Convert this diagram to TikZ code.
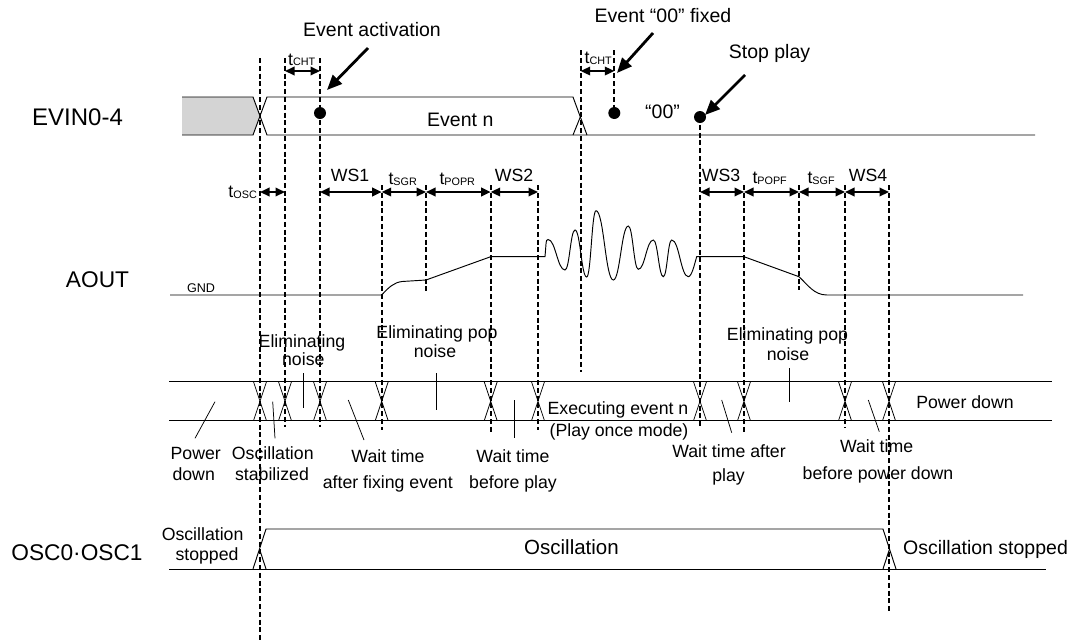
\documentclass[tikz,border=0pt]{standalone}
\usepackage{fontspec}
\setmainfont{Liberation Sans}
\usetikzlibrary{arrows.meta}
\newcommand{\tmsub}[1]{t\raisebox{-0.8pt}{\fontsize{10.8}{12}\selectfont #1}}
\begin{document}
\begin{tikzpicture}[x=1pt,y=-1pt,
  sig/.style={line width=0.95pt,black},
  leader/.style={line width=0.75pt,black},
  vdash/.style={line width=2pt,dash pattern=on 5pt off 2.8pt},
  span/.style={line width=2.1pt,{Triangle[length=9.5pt,width=8.5pt]}-{Triangle[length=9.5pt,width=8.5pt]}},
  ptr/.style={line width=2.8pt,-{Triangle[length=15pt,width=12.5pt]}},
  dotmark/.style={circle,fill=black,inner sep=0pt,minimum size=12pt},
  fA/.style={font=\fontsize{19.5}{22}\selectfont,inner sep=0pt,anchor=base},
  fB/.style={font=\fontsize{17.7}{20}\selectfont,inner sep=0pt,anchor=base},
  fR/.style={font=\fontsize{22.7}{25}\selectfont,inner sep=0pt,anchor=base},
  fS/.style={font=\fontsize{12.6}{14}\selectfont,inner sep=0pt,anchor=base},
]
\useasboundingbox (0,0) rectangle (1077,641);

% ---------- vertical dashed guide lines
\draw[vdash] (260,58) -- (260,641);
\draw[vdash] (285,58) -- (285,427);
\draw[vdash] (320,58) -- (320,427);
\draw[vdash] (381.7,185) -- (381.7,430);
\draw[vdash] (426,185) -- (426,293);
\draw[vdash] (490.7,185) -- (490.7,433);
\draw[vdash] (538,185) -- (538,430);
\draw[vdash] (580.7,50) -- (580.7,372);
\draw[vdash] (614.3,50) -- (614.3,113);
\draw[vdash] (700,117) -- (700,427);
\draw[vdash] (744,185) -- (744,433);
\draw[vdash] (799,185) -- (799,290);
\draw[vdash] (845,185) -- (845,427);
\draw[vdash] (889,185) -- (889,613);

% ---------- EVIN0-4
\node[fR,font=\fontsize{24}{26}\selectfont] (evin) at (77.5,125) {EVIN0-4};
\fill[fill={rgb,255:red,212;green,212;blue,212}] (182,97) -- (253,97) -- (260,116) -- (253,135) -- (182,135) -- cycle;
\draw[sig] (182,97) -- (253,97) -- (260,116) -- (253,135) -- (182,135);
\draw[sig] (260,116) -- (267,97) -- (573,97) -- (587,135);
\draw[sig] (260,116) -- (267,135) -- (1035,135);
\draw[sig] (573,135) -- (580.7,116);
\node[fA] (evn) at (460.3,126.7) {Event n};
\node[fA] (ev00) at (662.5,118.3) {“00”};
\node[dotmark] (d1) at (320,113) {};
\node[dotmark] (d2) at (614.3,113) {};
\node[dotmark] (d3) at (700,117) {};

% ---------- callouts
\node[fA] (lact) at (372,36.7) {Event activation};
\node[fA] (lfix) at (663,22.7) {Event “00” fixed};
\node[fA] (lstop) at (769.5,58.3) {Stop play};
\coordinate (pa0) at (368,48);  \coordinate (pa1) at (327,90);
\coordinate (pb0) at (653,33);  \coordinate (pb1) at (617,73);
\coordinate (pc0) at (745,75);  \coordinate (pc1) at (705,115);
\draw[ptr] (pa0) -- (pa1);
\draw[ptr] (pb0) -- (pb1);
\draw[ptr] (pc0) -- (pc1);

% ---------- t_CHT
\coordinate (c1a) at (285,71); \coordinate (c1b) at (320,71);
\coordinate (c2a) at (580.7,71); \coordinate (c2b) at (614.3,71);
\draw[span] (c1a) -- (c1b);
\draw[span] (c2a) -- (c2b);
\node[fB,anchor=base west] (tcht1) at (288,65) {\tmsub{CHT}};
\node[fB,anchor=base west] (tcht2) at (584.5,63.5) {\tmsub{CHT}};

% ---------- interval arrows
\coordinate (o0) at (260,192); \coordinate (o1) at (285,192);
\coordinate (w0) at (320,192); \coordinate (w1) at (381.7,192);
\coordinate (w2) at (426,192); \coordinate (w3) at (490.7,192);
\coordinate (w4) at (538,192);
\coordinate (v0) at (700,192); \coordinate (v1) at (744,192);
\coordinate (v2) at (799,192); \coordinate (v3) at (845,192);
\coordinate (v4) at (889,192);
\draw[span] (o0) -- (o1);
\draw[span] (w0) -- (w1);
\draw[span] (w1) -- (w2);
\draw[span] (w2) -- (w3);
\draw[span] (w3) -- (w4);
\draw[span] (v0) -- (v1);
\draw[span] (v1) -- (v2);
\draw[span] (v2) -- (v3);
\draw[span] (v3) -- (v4);
\node[fB,anchor=base east] (tosc) at (257,197.3) {\tmsub{OSC}};
\node[fB] (ws1) at (350,181.5) {WS1};
\node[fB,anchor=base west] (tsgr) at (388.3,184.3) {\tmsub{SGR}};
\node[fB,anchor=base west] (tpopr) at (439.3,184.3) {\tmsub{POPR}};
\node[fB] (ws2) at (514,181.5) {WS2};
\node[fB] (ws3) at (721,181) {WS3};
\node[fB,anchor=base west] (tpopf) at (752.3,183.5) {\tmsub{POPF}};
\node[fB,anchor=base west] (tsgf) at (807.3,183.5) {\tmsub{SGF}};
\node[fB] (ws4) at (868,181) {WS4};

% ---------- AOUT
\node[fR] (aout) at (97.5,287.3) {AOUT};
\node[fS] (gnd) at (201,292.3) {GND};
\draw[sig] (170,295) -- (381.7,295) .. controls (389,287) and (394,282.5) .. (402,281.5) -- (426,280) -- (490.7,256.7) -- (545,256.7)
  -- (546,244) .. controls (546.5,240) .. (548,239.5)
  .. controls (555.6,239.5) and (557.4,270) .. (565,270)
  .. controls (569.5,270) and (570.5,230) .. (575,230)
  .. controls (580.3,230) and (581.4,277) .. (586.7,277)
  .. controls (590.9,277) and (591.8,210.7) .. (596,210.7)
  .. controls (603.8,210.7) and (605.5,280) .. (613.3,280)
  .. controls (620,280) and (621.5,226) .. (628.3,226)
  .. controls (632.8,226) and (633.8,269.3) .. (638.3,269.3)
  .. controls (645,269.3) and (646.5,240) .. (653.3,240)
  .. controls (657.8,240) and (658.8,276.7) .. (663.3,276.7)
  .. controls (667.1,276.7) and (667.9,240) .. (671.7,240)
  .. controls (679.2,240) and (680.8,276.7) .. (688.3,276.7)
  .. controls (692,276.7) and (695,262) .. (696.7,256.7)
  -- (744,256.7) -- (799,276.7) .. controls (808,285) and (814,295) .. (827,295) -- (1023,295);

% ---------- state bar
\draw[sig] (169,381.7) -- (1052,381.7);
\draw[sig] (169,420.7) -- (1052,420.7);
\foreach \x in {260,285,320,381.7,490.7,538,700,744,845,889}
  \draw[leader] (\x-6.5,381.7) -- (\x+6.5,420.7) (\x+6.5,381.7) -- (\x-6.5,420.7);

% leaders
\draw[leader] (215,401.7) -- (195,438.3);
\draw[leader] (272.7,401.7) -- (275,438.3);
\draw[leader] (303.3,373.3) -- (303.3,408.3);
\draw[leader] (348.3,400) -- (364,440);
\draw[leader] (436,373.3) -- (436,410);
\draw[leader] (514,400) -- (514,438.3);
\draw[leader] (721.7,400) -- (731.7,432.7);
\draw[leader] (789.3,368.3) -- (789.3,401.7);
\draw[leader] (868.3,400) -- (879.3,431.7);

% state labels
\node[fB] (en1a) at (302,347.5) {Eliminating};
\node[fB] (en1b) at (303.3,365.5) {noise};
\node[fB] (ep1a) at (437,338.3) {Eliminating pop};
\node[fB] (ep1b) at (435,357.3) {noise};
\node[fB] (ep2a) at (787.5,340.7) {Eliminating pop};
\node[fB] (ep2b) at (788,360) {noise};
\node[fB] (exa) at (618,414) {Executing event n};
\node[fB] (exb) at (619,436.7) {(Play once mode)};
\node[fB] (pdr) at (965,408.3) {Power down};
\node[fB] (pda) at (195.7,459) {Power};
\node[fB] (pdb) at (193.7,480.3) {down};
\node[fB] (osa) at (272.8,459) {Oscillation};
\node[fB] (osb) at (272,480.3) {stabilized};
\node[fB] (wfa) at (388,462.4) {Wait time};
\node[fB] (wfb) at (387.8,488.3) {after fixing event};
\node[fB] (wba) at (513,462.4) {Wait time};
\node[fB] (wbb) at (513,488.3) {before play};
\node[fB] (waa) at (729,457.8) {Wait time after};
\node[fB] (wab) at (728.6,481) {play};
\node[fB] (wpa) at (876.6,452) {Wait time};
\node[fB] (wpb) at (878,479.4) {before power down};

% ---------- OSC0/OSC1
\node[fR] (osc) at (77,560.7) {OSC0·OSC1};
\draw[sig] (169,569) -- (1046,569);
\draw[sig] (253,569) -- (266,529) -- (883,529) -- (896,569);
\draw[sig] (259.5,549) -- (266,569);
\draw[sig] (883,569) -- (889.5,549);
\node[fB] (ossa) at (202.6,540) {Oscillation};
\node[fB] (ossb) at (207,560.7) {stopped};
\node[fA,font=\fontsize{20.5}{23}\selectfont] (osm) at (571.5,554.7) {Oscillation};
\node[fA] (oss) at (985.5,554.7) {Oscillation stopped};
\end{tikzpicture}
\end{document}
